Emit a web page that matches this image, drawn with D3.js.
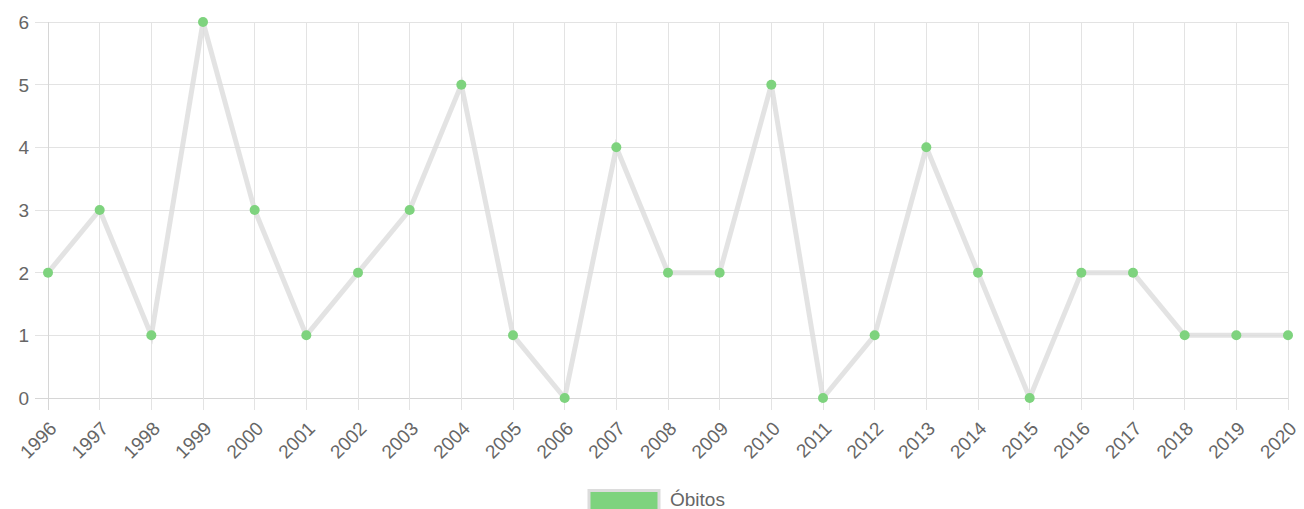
<!DOCTYPE html>
<html><head><meta charset="utf-8">
<script src="https://cdn.jsdelivr.net/npm/d3@7"></script>
<style>body{margin:0;background:#fff}svg{display:block}text{font-family:"Liberation Sans",Arial,Helvetica,sans-serif;fill:#666}</style>
</head><body><svg id="c" width="1304" height="509"></svg>
<script>
const years = ["1996","1997","1998","1999","2000","2001","2002","2003","2004","2005","2006","2007","2008","2009","2010","2011","2012","2013","2014","2015","2016","2017","2018","2019","2020"];
const obitos = [2,3,1,6,3,1,2,3,5,1,0,4,2,2,5,0,1,4,2,0,2,2,1,1,1];
const yTicks = [0,1,2,3,4,5,6];
const seriesName = "Óbitos";

const svg = d3.select("#c");
const L = 48, R = 1288, T = 22, B = 398;
const x = d3.scalePoint().domain(years).range([L, R]);
const y = d3.scaleLinear().domain([0, 6]).range([B, T]);
const grid = "#e3e3e3";
const fs = 19;

// horizontal grid
svg.append("g").selectAll("line").data(yTicks).join("line")
  .attr("x1", L - 13).attr("x2", R).attr("y1", d => y(d)).attr("y2", d => y(d))
  .attr("stroke", d => d === 0 ? "#d6d6d6" : grid).attr("stroke-width", 1).attr("shape-rendering","crispEdges");
// vertical grid
svg.append("g").selectAll("line").data(years).join("line")
  .attr("x1", d => x(d)).attr("x2", d => x(d)).attr("y1", T).attr("y2", B + 12)
  .attr("stroke", (d,i) => i === 0 ? "#d6d6d6" : grid).attr("stroke-width", 1).attr("shape-rendering","crispEdges");

// y labels
svg.append("g").selectAll("text").data(yTicks).join("text")
  .attr("x", 29).attr("y", d => y(d)).attr("dy", "0.36em")
  .attr("text-anchor", "end").attr("font-size", fs).text(d => d);

// x labels
svg.append("g").selectAll("text").data(years).join("text")
  .attr("transform", d => `translate(${x(d) + 5},${B + 27}) rotate(-45)`)
  .attr("dy", "0.36em").attr("text-anchor", "end").attr("font-size", fs).text(d => d);

// line
svg.append("path").datum(obitos)
  .attr("fill", "none").attr("stroke", "rgba(220,220,220,0.8)").attr("stroke-width", 5)
  .attr("stroke-linejoin", "miter")
  .attr("d", d3.line().x((d, i) => x(years[i])).y(d => y(d)));

// points
svg.append("g").selectAll("circle").data(obitos).join("circle")
  .attr("cx", (d, i) => x(years[i])).attr("cy", d => y(d)).attr("r", 5)
  .attr("fill", "#7ed37e");

// legend
const lg = svg.append("g");
lg.append("rect").attr("x", 589).attr("y", 490.5).attr("width", 70).attr("height", 24)
  .attr("fill", "#7ed37e").attr("stroke", "#dcdcdc").attr("stroke-width", 3);
lg.append("text").attr("x", 670).attr("y", 506).attr("font-size", fs).text(seriesName);
</script></body></html>
